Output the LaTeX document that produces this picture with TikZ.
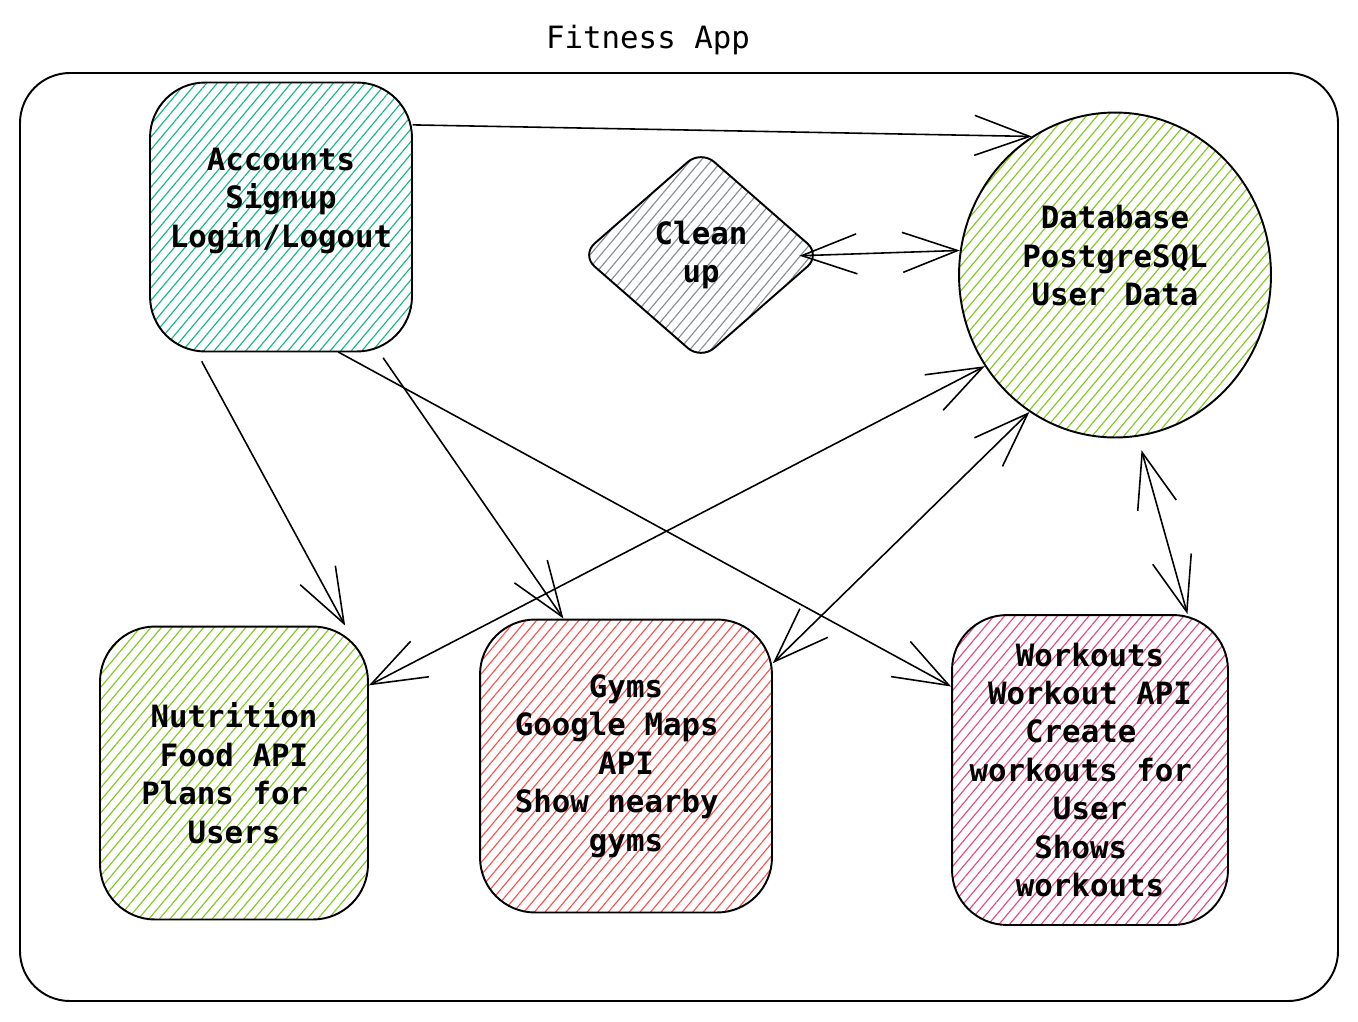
\documentclass[tikz,border=0pt]{standalone}
\usepackage{fontspec}
\setmonofont{DejaVu Sans Mono}
\usetikzlibrary{shapes.geometric,arrows.meta,patterns.meta}
\definecolor{hteal}{HTML}{12B886}
\definecolor{hgreen}{HTML}{82C91E}
\definecolor{hred}{HTML}{FA5252}
\definecolor{hpink}{HTML}{E64980}
\definecolor{hgray}{HTML}{868E96}
\newcommand\trail{\hphantom{x}}
\tikzset{
  hatch/.style={draw=black,line width=1.1pt,pattern={Lines[angle=50,distance=4.6pt,line width=0.65pt]},pattern color=#1,
    align=center,font=\ttfamily\bfseries\fontsize{17.5}{21.9}\selectfont,inner sep=0pt},
  card/.style={hatch=#1,rectangle,rounded corners=1.1cm},
  arr/.style={-{Straight Barb[length=1.1cm,width=0.8cm]},line width=0.9pt},
  darr/.style={{Straight Barb[length=1.1cm,width=0.8cm]}-{Straight Barb[length=1.1cm,width=0.8cm]},line width=0.9pt}
}
\begin{document}
\begin{tikzpicture}[x=0.02cm,y=-0.02cm]
    \useasboundingbox (0,0) rectangle (1358,1021);
    % frame
    \draw[line width=1.1pt,rounded corners=1cm] (20,73) rectangle (1338,1001);
    \node[font=\ttfamily\fontsize{17.5}{21.9}\selectfont] (title) at (648,40) {Fitness App};
    % blocks
    \node[card=hteal,minimum width=5.24cm,minimum height=5.38cm] (acc) at (281,217) {Accounts\\Signup\\Login/Logout\\ };
    \node[hatch=hgray,diamond,rounded corners=0.35cm,minimum width=4.8cm,minimum height=4.2cm] (clean) at (701,255) {Clean\\up};
    \node[hatch=hgreen,ellipse,minimum width=6.24cm,minimum height=6.5cm] (db) at (1115,275) {Database\\PostgreSQL\\User Data\\ };
    \node[card=hgreen,minimum width=5.36cm,minimum height=5.86cm] (nut) at (234,773) {Nutrition\\Food API\\Plans for\trail\\Users};
    \node[card=hred,minimum width=5.84cm,minimum height=5.86cm] (gym) at (626,766) {Gyms\\Google Maps\trail\\API\\Show nearby\trail\\gyms};
    \node[card=hpink,minimum width=5.52cm,minimum height=6.2cm] (wk) at (1090,770) {Workouts\\Workout API\\Create\trail\\workouts for\trail\\User\\Shows\trail\\workouts};
    % arrows
    \draw[arr] (acc.35) -- (db.121);
    \draw[darr,shorten <=-0.45cm] (clean.east) -- (db.171);
    \draw[arr,shorten <=6pt] (acc.238) -- (nut.53);
    \draw[arr,shorten <=4pt] (acc.306) -- (gym.113);
    \draw[arr] (acc.293) -- (wk.149);
    \draw[darr] (db.215) -- (nut.33);
    \draw[darr] (db.238) -- (gym.35);
    \draw[darr,shorten <=8pt] (db.278) -- (wk.58);
\end{tikzpicture}
\end{document}
